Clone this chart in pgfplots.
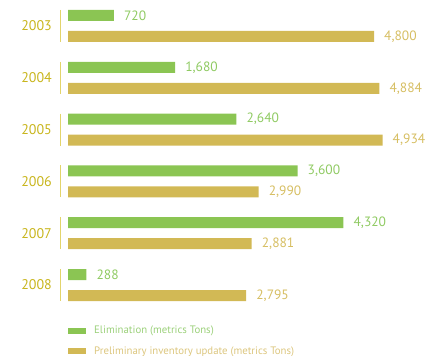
\documentclass[border=0pt]{standalone}
\usepackage{fontspec}
\setmainfont{PT Sans}
\usepackage{pgfplots}
\pgfplotsset{compat=1.18}
\definecolor{barG}{HTML}{8BC553}
\definecolor{barY}{HTML}{D2B955}
\definecolor{labG}{HTML}{8FCA62}
\definecolor{labY}{HTML}{D6BE62}
\definecolor{legG}{HTML}{9BD07A}
\definecolor{legY}{HTML}{DCC67E}
\definecolor{yearC}{HTML}{C8B51C}
\definecolor{vline}{HTML}{E2D46B}
\begin{document}
\begin{tikzpicture}
\begin{axis}[
  name=ax,
  width=425bp, height=356bp, scale only axis,
  xmin=-1066.67, xmax=5600, ymin=0, ymax=356, y dir=reverse,
  axis line style={draw=none}, xtick=\empty, ytick=\empty,
  clip=false,
  /pgf/number format/assume math mode=true,
  /pgf/number format/.cd, 1000 sep={,}, fixed, /pgfplots/.cd,
  legend style={draw=none, fill=none, at={(rel axis cs:0.16,0.09)}, anchor=north west,
    inner sep=0pt, row sep=7.5bp, font=\fontsize{10.8bp}{12bp}\selectfont,
    /tikz/every even column/.append style={column sep=0bp},
    nodes={inner xsep=8bp, inner ysep=2bp}},
  legend cell align=left,
]
\addplot[xbar, bar width=11bp, bar shift=0pt, draw=none, fill=barG,
  nodes near coords, nodes near coords style={anchor=west, xshift=10bp, text=labG, font=\fontsize{13.5bp}{15bp}\selectfont, inner xsep=0pt},
  legend image code/.code={\fill[barG] (0bp,-3bp) rectangle (18bp,3bp);}]
  coordinates {(720,15.5) (1680,67.3) (2640,119.1) (3600,170.9) (4320,222.7) (288,274.5)};
\addlegendentry{\textcolor{legG}{Elimination (metrics Tons)}}
\addplot[xbar, bar width=11bp, bar shift=0pt, draw=none, fill=barY,
  nodes near coords, nodes near coords style={anchor=west, xshift=10bp, text=labY, font=\fontsize{13.5bp}{15bp}\selectfont, inner xsep=0pt},
  legend image code/.code={\fill[barY] (0bp,-3bp) rectangle (18bp,3bp);}]
  coordinates {(4800,36.5) (4884,88.3) (4934,140.1) (2990,191.9) (2881,243.7) (2795,295.5)};
\addlegendentry{\textcolor{legY}{Preliminary inventory update (metrics Tons)}}
\addplot[forget plot, vline, line width=1.5bp, unbounded coords=jump] coordinates {
  (-118,10) (-118,42) (nan,nan)
  (-118,61.8) (-118,93.8) (nan,nan)
  (-118,113.6) (-118,145.6) (nan,nan)
  (-118,165.4) (-118,197.4) (nan,nan)
  (-118,217.2) (-118,249.2) (nan,nan)
  (-118,269) (-118,301)};
\addplot[forget plot, only marks, mark=none, point meta=explicit symbolic,
  nodes near coords, nodes near coords align={center},
  nodes near coords style={anchor=east, inner sep=0pt, text=yearC, font=\fontsize{14bp}{16bp}\selectfont}]
  table[meta=label] {
x y label
-251 26 2003
-251 77.8 2004
-251 129.6 2005
-251 181.4 2006
-251 233.2 2007
-251 285 2008
};
\end{axis}
\pgfresetboundingbox
\path[use as bounding box] (ax.south west) rectangle (ax.north east);
\end{tikzpicture}
\end{document}
